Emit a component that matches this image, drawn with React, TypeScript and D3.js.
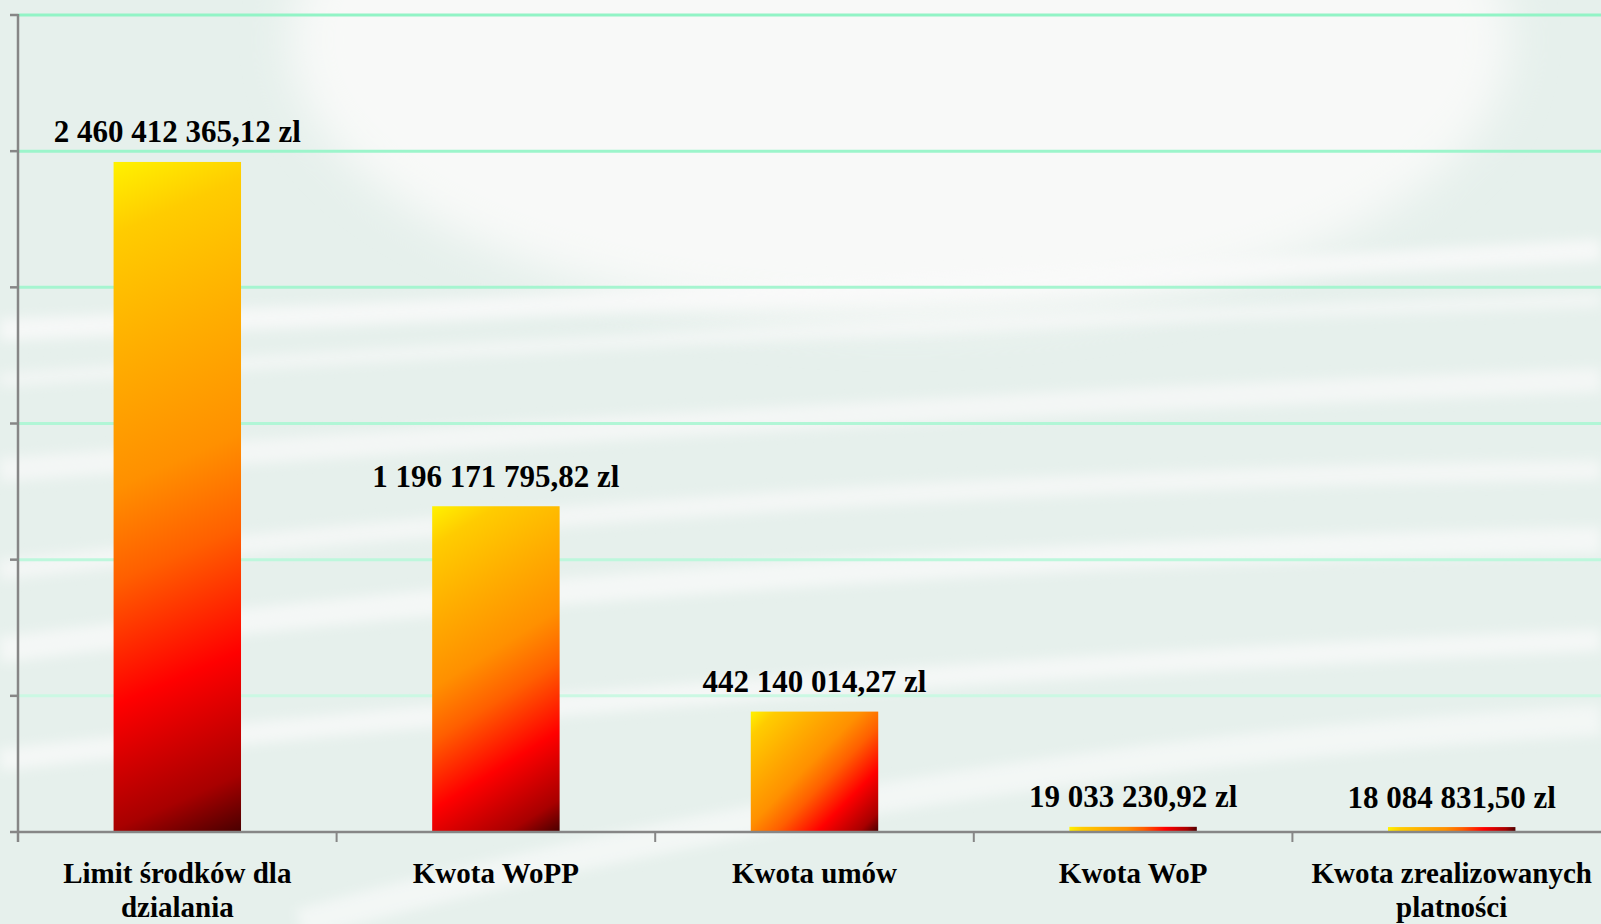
import React from "react";
import * as d3 from "d3";

// ---- data ----
const categoryLines: string[][] = [
  ["Limit środków dla", "dzialania"],
  ["Kwota WoPP"],
  ["Kwota umów"],
  ["Kwota WoP"],
  ["Kwota zrealizowanych", "platności"],
];
const values: number[] = [2460412365.12, 1196171795.82, 442140014.27, 19033230.92, 18084831.5];
const yTicks: number[] = [0, 5e8, 1e9, 1.5e9, 2e9, 2.5e9, 3e9];

// ---- layout / style ----
const W = 1601;
const H = 924;
const LEFT = 18;
const TOP = 15;
const BOTTOM = 832;
const STEP = 318.6;
const FONT = "'Liberation Serif', 'Times New Roman', serif";
const AXIS = "#868686";

const gradStops: [number, string][] = [
  [0, "#fff200"],
  [0.1, "#ffcc00"],
  [0.27, "#ffae00"],
  [0.45, "#ff9000"],
  [0.58, "#ff5f00"],
  [0.75, "#ff0000"],
  [0.92, "#a80000"],
  [1, "#480000"],
];

export default function App() {
  const idx = d3.range(values.length);
  const x = d3
    .scaleBand<number>()
    .domain(idx)
    .range([LEFT, LEFT + STEP * values.length])
    .padding(0);
  const y = d3.scaleLinear().domain([0, 3e9]).range([BOTTOM, TOP]);
  const barW = x.bandwidth() * 0.4;

  const locale = d3.formatLocale({
    decimal: ",",
    thousands: " ",
    grouping: [3],
    currency: ["", " zl"],
  });
  const fmt = locale.format("$,.2f");
  const gridColor = d3.interpolateRgb("#e2f9ef", "#92f4c6");

  const bars = values.map((v, i) => {
    const cx = (x(i) as number) + x.bandwidth() / 2;
    const x0 = cx - barW / 2;
    const y0 = y(v);
    const h = BOTTOM - y0;
    const a = Math.sqrt(barW / Math.max(h, 1));
    const b = 1;
    const L = (barW * a + h * b) / (a * a + b * b);
    return { v, i, cx, x0, y0, h, gx2: x0 + a * L, gy2: y0 + b * L };
  });

  return (
    <svg
      width={W}
      height={H}
      style={{ position: "absolute", left: 0, top: 0, display: "block" }}
    >
      <defs>
        {bars.map((b) => (
          <linearGradient
            key={b.i}
            id={`g${b.i}`}
            gradientUnits="userSpaceOnUse"
            x1={b.x0}
            y1={b.y0}
            x2={b.gx2}
            y2={b.gy2}
          >
            {gradStops.map(([o, c]) => (
              <stop key={o} offset={o} stopColor={c} />
            ))}
          </linearGradient>
        ))}
        <filter id="blur" x="-10%" y="-10%" width="120%" height="120%">
          <feGaussianBlur stdDeviation="6" />
        </filter>
        <filter id="blurBig" x="-20%" y="-20%" width="140%" height="140%">
          <feGaussianBlur stdDeviation="22" />
        </filter>
      </defs>

      {/* background */}
      <rect x={0} y={0} width={W} height={H} fill="#e6f0ec" />
      <ellipse cx={900} cy={40} rx={610} ry={280} fill="#f8f9f8" filter="url(#blurBig)" />
      <g filter="url(#blur)">
        <path d="M0,330 Q700,300 1601,250" stroke="#fafafa" strokeWidth={22} fill="none" opacity={0.8} />
        <path d="M0,380 Q700,330 1601,300" stroke="#fafafa" strokeWidth={14} fill="none" opacity={0.6} />
        <path d="M0,470 Q800,410 1601,380" stroke="#fafafa" strokeWidth={24} fill="none" opacity={0.7} />
        <path d="M0,570 Q800,480 1601,470" stroke="#fafafa" strokeWidth={20} fill="none" opacity={0.7} />
        <path d="M0,650 Q700,560 1601,540" stroke="#fbfbfb" strokeWidth={26} fill="none" opacity={0.7} />
        <path d="M0,760 Q700,680 1601,640" stroke="#fbfbfb" strokeWidth={22} fill="none" opacity={0.7} />
        <path d="M300,924 Q900,760 1601,720" stroke="#fbfbfb" strokeWidth={30} fill="none" opacity={0.6} />
      </g>

      {/* gridlines */}
      {yTicks.slice(1).map((t, k) => (
        <line
          key={t}
          x1={LEFT}
          x2={W}
          y1={y(t)}
          y2={y(t)}
          stroke={gridColor(Math.pow((k + 1) / (yTicks.length - 1), 0.7))}
          strokeWidth={3}
        />
      ))}

      {/* bars */}
      {bars.map((b) => (
        <rect key={b.i} x={b.x0} y={b.y0} width={barW} height={b.h} fill={`url(#g${b.i})`} />
      ))}

      {/* axes */}
      <line x1={LEFT} x2={LEFT} y1={TOP - 1} y2={BOTTOM + 10} stroke={AXIS} strokeWidth={2.5} />
      {yTicks.map((t) => (
        <line key={t} x1={LEFT - 8} x2={LEFT} y1={y(t)} y2={y(t)} stroke={AXIS} strokeWidth={2.5} />
      ))}
      <line x1={LEFT} x2={W} y1={BOTTOM} y2={BOTTOM} stroke={AXIS} strokeWidth={2.5} />
      {idx.map((i) => (
        <line
          key={i}
          x1={x(i) as number}
          x2={x(i) as number}
          y1={BOTTOM}
          y2={BOTTOM + 10}
          stroke={AXIS}
          strokeWidth={2}
        />
      ))}

      {/* value labels */}
      {bars.map((b) => (
        <text
          key={b.i}
          x={b.cx}
          y={b.y0 - 19.5}
          textAnchor="middle"
          fontFamily={FONT}
          fontWeight="bold"
          fontSize={31}
          fill="#000"
        >
          {fmt(b.v)}
        </text>
      ))}

      {/* category labels */}
      {bars.map((b) => (
        <text
          key={b.i}
          x={b.cx}
          y={883}
          textAnchor="middle"
          fontFamily={FONT}
          fontWeight="bold"
          fontSize={29}
          fill="#000"
        >
          {categoryLines[b.i].map((ln, j) => (
            <tspan key={j} x={b.cx} dy={j === 0 ? 0 : 34}>
              {ln}
            </tspan>
          ))}
        </text>
      ))}
    </svg>
  );
}
